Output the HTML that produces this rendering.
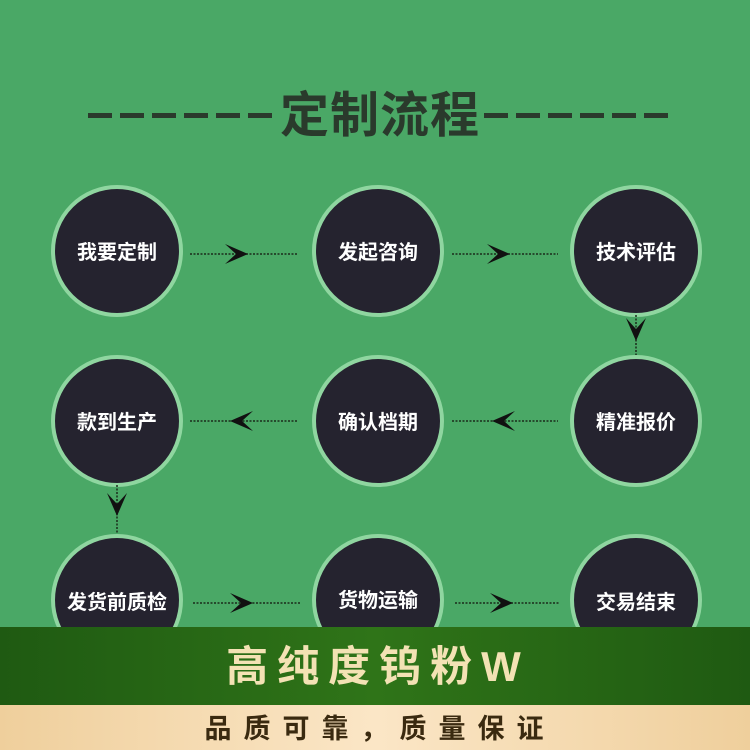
<!DOCTYPE html>
<html><head><meta charset="utf-8"><style>
html,body{margin:0;padding:0;width:750px;height:750px;overflow:hidden;background:#4aa866}
svg{display:block}
</style></head><body>
<svg width="750" height="750" viewBox="0 0 750 750" xmlns="http://www.w3.org/2000/svg" font-family="Liberation Sans, Noto Sans CJK SC, sans-serif">
<defs>
<linearGradient id="band" x1="0" x2="1" y1="0" y2="0">
<stop offset="0" stop-color="#1f5a12"/><stop offset="0.5" stop-color="#2f7418"/><stop offset="1" stop-color="#1f5a12"/>
</linearGradient>
<linearGradient id="beige" x1="0" x2="1" y1="0" y2="0">
<stop offset="0" stop-color="#efcf9c"/><stop offset="0.5" stop-color="#fbe6c6"/><stop offset="1" stop-color="#efcf9c"/>
</linearGradient>
</defs>
<rect width="750" height="750" fill="#4aa866"/>
<g fill="#2a3a2c">
<rect x="88" y="113" width="24" height="5"/><rect x="120" y="113" width="24" height="5"/><rect x="152" y="113" width="24" height="5"/><rect x="184" y="113" width="24" height="5"/><rect x="216" y="113" width="24" height="5"/><rect x="248" y="113" width="24" height="5"/>
<rect x="484" y="113" width="24" height="5"/><rect x="516" y="113" width="24" height="5"/><rect x="548" y="113" width="24" height="5"/><rect x="580" y="113" width="24" height="5"/><rect x="612" y="113" width="24" height="5"/><rect x="644" y="113" width="24" height="5"/>
</g>
<text x="380" y="132" text-anchor="middle" font-size="49" font-weight="bold" fill="#2a3a2c" letter-spacing="1">定制流程</text>
<g stroke="#8fd6a0" stroke-width="4" fill="#25232f">
<circle cx="117" cy="251" r="64"/><circle cx="378" cy="251" r="64"/><circle cx="636" cy="251" r="64"/>
<circle cx="117" cy="421" r="64"/><circle cx="378" cy="421" r="64"/><circle cx="636" cy="421" r="64"/>
<circle cx="117" cy="600" r="64"/><circle cx="378" cy="600" r="64"/><circle cx="636" cy="600" r="64"/>
</g>
<g fill="#fff" font-size="20" font-weight="bold" text-anchor="middle">
<text x="117" y="259">我要定制</text><text x="378" y="259">发起咨询</text><text x="636" y="259">技术评估</text>
<text x="117" y="429">款到生产</text><text x="378" y="429">确认档期</text><text x="636" y="429">精准报价</text>
<text x="117" y="609">发货前质检</text><text x="378" y="607">货物运输</text><text x="636" y="609">交易结束</text>
</g>
<g stroke="#1a2a1a" stroke-width="1.5" stroke-dasharray="2 1.5" fill="none">
<line x1="190" y1="254" x2="298" y2="254"/><line x1="452" y1="254" x2="558" y2="254"/>
<line x1="190" y1="421" x2="298" y2="421"/><line x1="452" y1="421" x2="558" y2="421"/>
<line x1="193" y1="603" x2="300" y2="603"/><line x1="455" y1="603" x2="560" y2="603"/>
<line x1="636" y1="315" x2="636" y2="355"/><line x1="117" y1="485" x2="117" y2="533"/>
</g>
<g fill="#111">
<path d="M225 244 L248 254 L225 264 L236 254Z"/><path d="M487 244 L510 254 L487 264 L498 254Z"/>
<path d="M253 411 L230 421 L253 431 L242 421Z"/><path d="M515 411 L492 421 L515 431 L504 421Z"/>
<path d="M230 593 L253 603 L230 613 L241 603Z"/><path d="M490 593 L513 603 L490 613 L501 603Z"/>
<path d="M626 318 L636 341 L646 318 L636 329Z"/><path d="M107 493 L117 516 L127 493 L117 504Z"/>
</g>
<rect x="0" y="627" width="750" height="78" fill="url(#band)"/>
<rect x="0" y="705" width="750" height="45" fill="url(#beige)"/>
<text x="378" y="681" text-anchor="middle" font-size="42" font-weight="bold" fill="#f3e2b4" letter-spacing="9">高纯度钨粉W</text>
<text x="380" y="738" text-anchor="middle" font-size="27" font-weight="bold" fill="#3a2a10" letter-spacing="12">品质可靠，质量保证</text>
</svg>
</body></html>
